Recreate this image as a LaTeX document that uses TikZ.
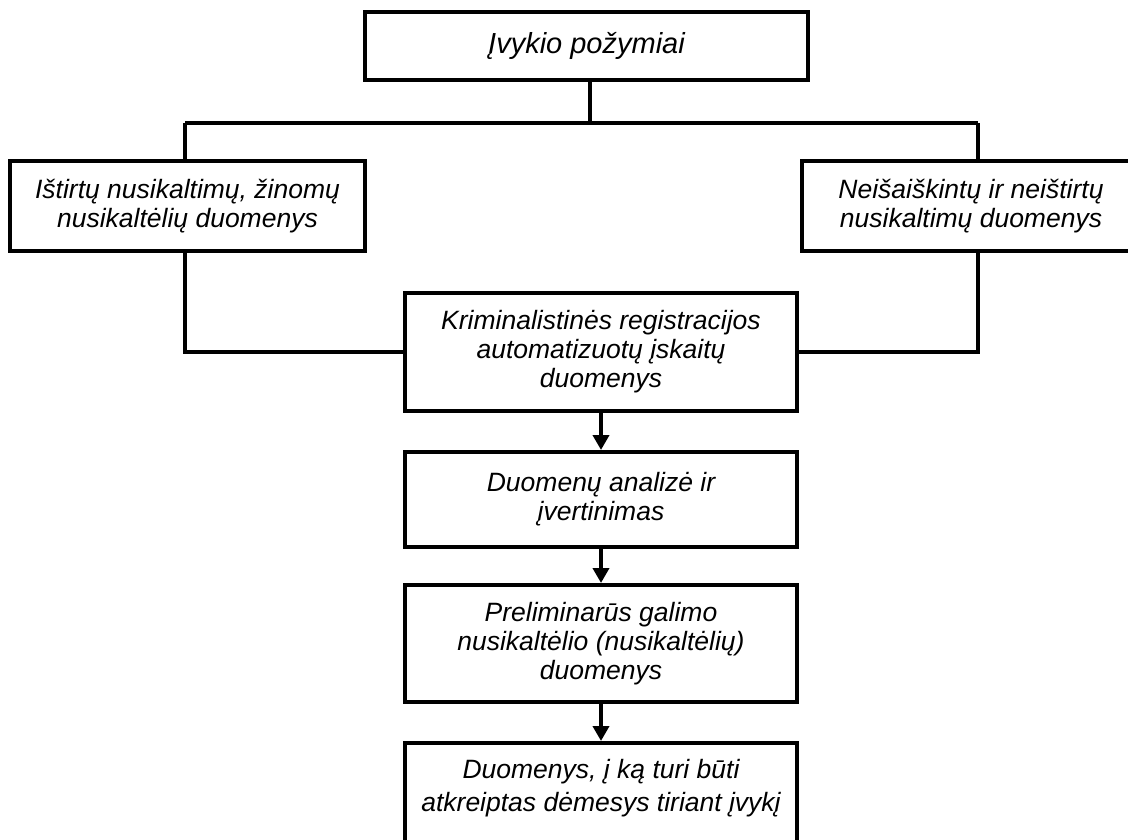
\documentclass[tikz,border=0pt]{standalone}
\usepackage{fontspec}
\setmainfont{Liberation Sans}
\usetikzlibrary{arrows.meta}
\tikzset{
  box/.style={draw, line width=4pt, align=center, inner sep=0pt,
    font=\itshape\fontsize{26.5}{29}\selectfont},
  conn/.style={line width=4pt},
  arr/.style={line width=4pt, -{Triangle[length=15pt,width=16pt]}}
}
\begin{document}
\begin{tikzpicture}[x=1pt,y=-1pt]
\useasboundingbox (0,0) rectangle (1128,839);
\node[box, minimum width=443pt, minimum height=68pt, font=\itshape\fontsize{29}{32}\selectfont] (top) at (586.5,46) {Įvykio požymiai};
\node[box, minimum width=355pt, minimum height=90pt] (left) at (187.5,206) {Ištirtų nusikaltimų, žinomų\\nusikaltėlių duomenys};
\node[box, minimum width=338pt, minimum height=90pt] (right) at (971,206) {Neišaiškintų ir neištirtų\\nusikaltimų duomenys};
\node[box, minimum width=392pt, minimum height=118pt] (b1) at (601,352) {Kriminalistinės registracijos\\automatizuotų įskaitų\\duomenys};
\node[box, minimum width=392pt, minimum height=95pt] (b2) at (601,499.5) {Duomenų analizė ir\\įvertinimas};
\node[box, minimum width=392pt, minimum height=117pt] (b3) at (601,643.5) {Preliminarūs galimo\\nusikaltėlio (nusikaltėlių)\\duomenys};
\node[box, minimum width=392pt, minimum height=117pt, font=\itshape\fontsize{26.5}{33}\selectfont] (b4) at (601,801.5) {Duomenys, į ką turi būti\\atkreiptas dėmesys tiriant įvykį\\\mbox{}};
\coordinate (J) at (590,123);
\coordinate (JL) at (185,123);
\coordinate (JR) at (978,123);
\draw[conn] (top.south -| J) -- (J);
\draw[conn] (JL) -- (JR);
\draw[conn] (JL) -- (JL |- left.north);
\draw[conn] (JR) -- (JR |- right.north);
\draw[conn] (left.south -| JL) |- (b1.west);
\draw[conn] (right.south -| JR) |- (b1.east);
\draw[arr] (b1.south) -- (b2.north);
\draw[arr] (b2.south) -- (b3.north);
\draw[arr] (b3.south) -- (b4.north);
\end{tikzpicture}
\end{document}
